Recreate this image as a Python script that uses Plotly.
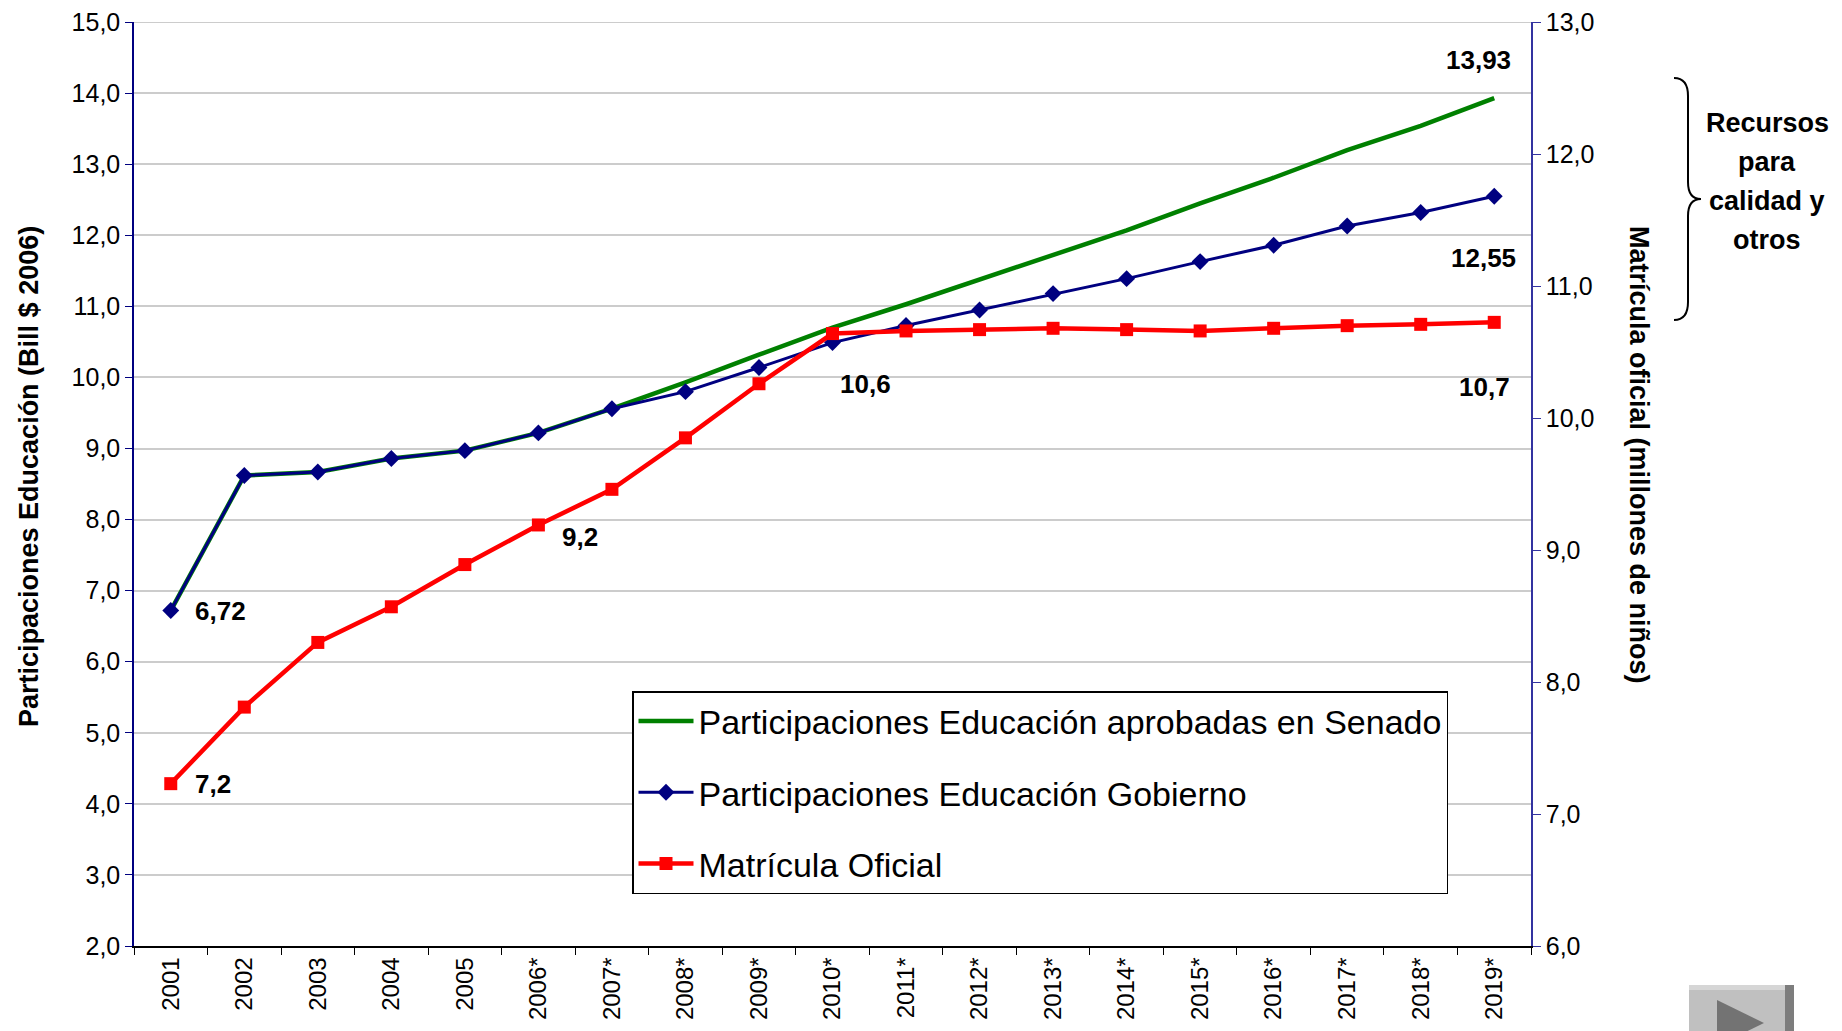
import plotly.graph_objects as go

# categorias del eje x
anios = ["2001", "2002", "2003", "2004", "2005", "2006*", "2007*", "2008*", "2009*", "2010*",
         "2011*", "2012*", "2013*", "2014*", "2015*", "2016*", "2017*", "2018*", "2019*"]

# Participaciones Educacion (Bill $ 2006) - eje izquierdo
senado = [6.72, 8.62, 8.67, 8.86, 8.97, 9.22, 9.56, 9.93, 10.32, 10.70,
          11.03, 11.38, 11.73, 12.07, 12.45, 12.81, 13.20, 13.54, 13.93]
gobierno = [6.72, 8.62, 8.67, 8.86, 8.97, 9.22, 9.56, 9.80, 10.14, 10.49,
            10.73, 10.95, 11.18, 11.39, 11.63, 11.86, 12.13, 12.32, 12.55]

# Matricula oficial (millones de ninos) - eje derecho
matricula = [7.23, 7.81, 8.30, 8.57, 8.89, 9.19, 9.46, 9.85, 10.26, 10.64,
             10.66, 10.67, 10.68, 10.67, 10.66, 10.68, 10.70, 10.71, 10.725]

nombres = ["Participaciones Educación aprobadas en Senado",
           "Participaciones Educación Gobierno",
           "Matrícula Oficial"]

recursos = ["Recursos", "para", "calidad y", "otros"]

# area del grafico en pixeles de la pagina (el body tiene 8px de margen)
OFF = 8
L, R, T, B = 134, 1531, 22, 946
W, H = R - L, B - T
FONT = "Liberation Sans, Arial"
Y1_MAX, Y2_MAX = 15.0013, 13.0007


def px_x(x):
    return (x - L) / W


def px_y(y):
    return (B - y) / H


def fmt(v, dec):
    return f"{v:.{dec}f}".replace(".", ",")


fig = go.Figure()

fig.add_trace(go.Scatter(x=anios, y=senado, name=nombres[0], mode="lines",
                         line=dict(color="#008000", width=4.5), legendgroup="a"))
fig.add_trace(go.Scatter(x=anios, y=gobierno, name=nombres[1], mode="lines+markers",
                         line=dict(color="#000080", width=3),
                         marker=dict(symbol="diamond", size=13, color="#000080"),
                         legendgroup="b"))
fig.add_trace(go.Scatter(x=anios, y=matricula, name=nombres[2], mode="lines+markers",
                         line=dict(color="#ff0000", width=4.5),
                         marker=dict(symbol="square", size=13, color="#ff0000"),
                         legendgroup="c", yaxis="y2"))

# etiquetas de datos (serie, indice, decimales, eje, xanchor, xshift, yshift)
etiquetas = [
    (gobierno, 0, 2, "y", "left", 22, 0),
    (matricula, 0, 1, "y2", "left", 22, 0),
    (matricula, 5, 1, "y2", "left", 22, -12),
    (matricula, 9, 1, "y2", "left", 5, -50),
    (senado, 18, 2, "y", "center", -16, 38),
    (gobierno, 18, 2, "y", "center", -11, -62),
    (matricula, 18, 1, "y2", "center", -10, -65),
]
for serie, i, dec, eje, xa, xs, ys in etiquetas:
    # posicion por indice de categoria (evita que "2001" se lea como numero)
    fig.add_annotation(x=i, y=serie[i], yref=eje, text=fmt(serie[i], dec),
                       showarrow=False, xanchor=xa, yanchor="middle", xshift=xs, yshift=ys,
                       font=dict(family=FONT, size=26, color="black", weight="bold"))

# titulos de ejes
fig.add_annotation(x=px_x(29), y=px_y(477), xref="paper", yref="paper",
                   xanchor="center", yanchor="middle",
                   text="Participaciones Educación (Bill $ 2006)", textangle=-90,
                   showarrow=False,
                   font=dict(family=FONT, size=27, color="black", weight="bold"))
fig.add_annotation(x=px_x(1639), y=px_y(455), xref="paper", yref="paper",
                   xanchor="center", yanchor="middle",
                   text="Matrícula oficial (millones de niños)", textangle=90,
                   showarrow=False,
                   font=dict(family=FONT, size=27, color="black", weight="bold"))
for k, linea in enumerate(recursos):
    fig.add_annotation(x=px_x(1767), y=px_y(123 + 39 * k), xref="paper", yref="paper",
                       xanchor="center", yanchor="middle", text=linea, showarrow=False,
                       font=dict(family=FONT, size=27, color="black", weight="bold"))

# linea de cuadricula superior (15,0)
fig.add_shape(type="line", xref="paper", yref="y", x0=0, x1=1, y0=15, y1=15,
              line=dict(color="#cccccc", width=2), layer="below")

# llave "}"
bx0, bx1, bx2 = px_x(1674), px_x(1688), px_x(1701)
by0, by1, bym, by2, by3 = px_y(78), px_y(96), px_y(199), px_y(302), px_y(320)
brace = (f"M {bx0},{by0} Q {bx1},{by0} {bx1},{by1} "
         f"L {bx1},{px_y(182)} Q {bx1},{bym} {bx2},{bym} "
         f"Q {bx1},{bym} {bx1},{px_y(216)} "
         f"L {bx1},{by2} Q {bx1},{by3} {bx0},{by3}")
fig.add_shape(type="path", path=brace, xref="paper", yref="paper",
              line=dict(color="black", width=2))

# boton gris de navegacion
fig.add_shape(type="rect", xref="paper", yref="paper",
              x0=px_x(1689), x1=px_x(1794), y0=px_y(985), y1=px_y(1045),
              fillcolor="#c0c0c0", line=dict(width=0))
fig.add_shape(type="rect", xref="paper", yref="paper",
              x0=px_x(1689), x1=px_x(1794), y0=px_y(985), y1=px_y(990),
              fillcolor="#d6d6d6", line=dict(width=0))
fig.add_shape(type="rect", xref="paper", yref="paper",
              x0=px_x(1785), x1=px_x(1794), y0=px_y(985), y1=px_y(1045),
              fillcolor="#7d7d7d", line=dict(width=0))
tri = (f"M {px_x(1717)},{px_y(1000)} L {px_x(1764)},{px_y(1023)} "
       f"L {px_x(1717)},{px_y(1046)} Z")
fig.add_shape(type="path", path=tri, xref="paper", yref="paper",
              fillcolor="#737373", line=dict(width=0))

fig.update_layout(
    width=1842, height=1031, autosize=False,
    margin=dict(l=L - OFF, r=1842 - (R - OFF), t=T - OFF, b=1031 - (B - OFF), pad=0),
    paper_bgcolor="white", plot_bgcolor="white",
    separators=",.",
    font=dict(family=FONT, color="black"),
    xaxis=dict(type="category", range=[-0.5, 18.5], tickangle=-90, tickson="boundaries",
               ticks="outside", ticklen=7, tickcolor="black", showline=True,
               linecolor="black", linewidth=1.5, showgrid=False, automargin=False,
               tickfont=dict(size=24)),
    yaxis=dict(range=[2, Y1_MAX], tick0=0, dtick=1, tickformat=".1f", ticks="outside",
               ticklen=7, tickcolor="#000080", showline=True, linecolor="#000080",
               linewidth=1.5, gridcolor="#cccccc", gridwidth=2, zeroline=False,
               automargin=False, ticklabeloverflow="allow", tickfont=dict(size=25)),
    yaxis2=dict(range=[6, Y2_MAX], tick0=0, dtick=1, tickformat=".1f", overlaying="y",
                side="right", ticks="outside", ticklen=8, tickcolor="#3333a0",
                showline=True, linecolor="#3333a0", linewidth=1.5, showgrid=False,
                zeroline=False, automargin=False, ticklabeloverflow="allow",
                tickfont=dict(size=25)),
    legend=dict(x=px_x(632), y=px_y(691), xanchor="left", yanchor="top",
                bgcolor="white", bordercolor="black", borderwidth=1.5,
                font=dict(size=34, color="black"), itemwidth=55,
                tracegroupgap=24, traceorder="grouped"),
    showlegend=True,
)

fig.write_html("out.html")
